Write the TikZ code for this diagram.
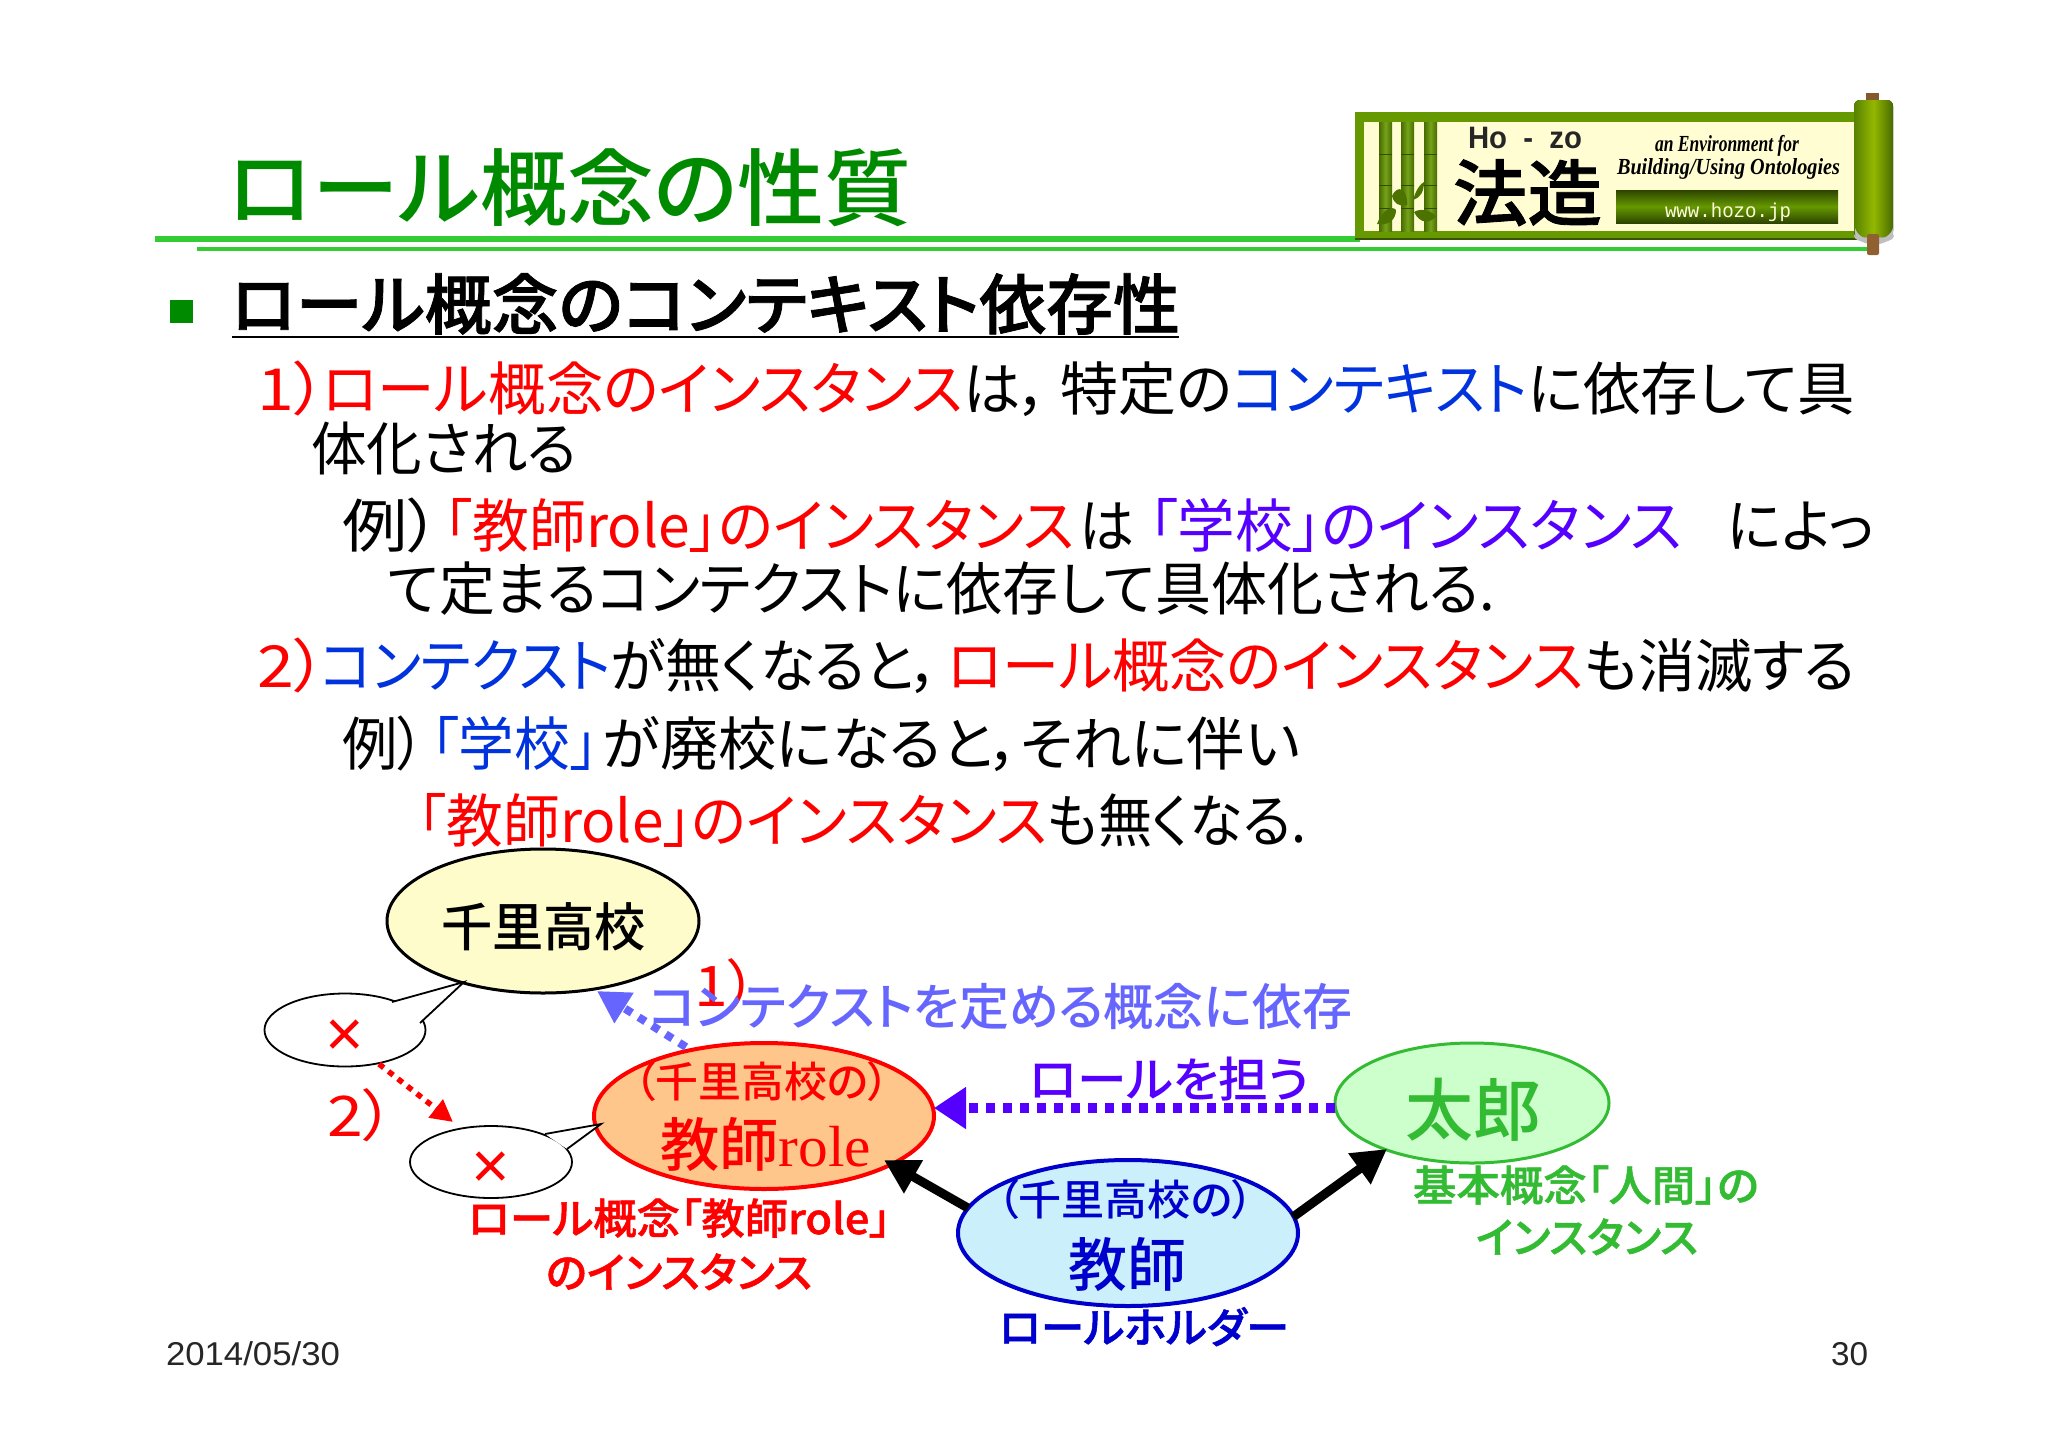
\documentclass[tikz,border=0pt]{standalone}
\usepackage{fontspec}
\usepackage{graphicx}
\usetikzlibrary{shapes.geometric,arrows.meta}
\setmainfont{Noto Sans CJK JP}[RawFeature=+palt]
\newfontfamily\med{Noto Sans CJK JP Medium}[RawFeature=+palt]
\newfontfamily\hvy{Noto Sans CJK JP Medium}[RawFeature=+palt,FakeBold=1.2]
\newfontfamily\lsans{Liberation Sans}
\newfontfamily\lserif{Liberation Serif}
\newfontfamily\lmono{Liberation Mono}
\newsavebox\fitbox
\newcommand\fitw[2]{\sbox\fitbox{#2}\pgfmathsetmacro\fitr{#1/\wd\fitbox}\scalebox{\fitr}[1]{\usebox\fitbox}}
\newcommand\fs[1]{\fontsize{#1}{#1}\selectfont}
% name, x, baseline, width, size, colour, text
\newcommand\seg[7]{\node[txt,text=#6] (#1) at (#2,#3) {\fitw{#4}{\fs{#5}#7}};}
\definecolor{titlegreen}{HTML}{008A00}
\definecolor{linegreen}{HTML}{33CC33}
\definecolor{rd}{HTML}{FF0000}
\definecolor{blu}{HTML}{0033DD}
\definecolor{vio}{HTML}{5500FF}
\definecolor{lblue}{HTML}{6666FF}
\definecolor{navy}{HTML}{0000CC}
\definecolor{grn}{HTML}{33BB33}
\definecolor{logog}{HTML}{669900}
\tikzset{
  txt/.style={anchor=base west,inner sep=0pt,outer sep=0pt},
  elli/.style={ellipse,inner sep=0pt,outer sep=0pt},
  dotarrow/.style={dash pattern=on 8pt off 8pt},
  bamboo/.style={left color=logog!70!black,right color=logog!70!black,middle color=logog!90!white},
}
\begin{document}
\begin{tikzpicture}[x=1pt,y=-1pt]
\useasboundingbox (0,0) rectangle (2048,1448);
\fill[white] (0,0) rectangle (2048,1448);
% rules
\coordinate (ruleA) at (155,239); \coordinate (ruleB) at (1360,239);
\coordinate (ruleC) at (197,249); \coordinate (ruleD) at (1868,249);
\draw[linegreen,line width=6pt] (ruleA) -- (ruleB);
\draw[linegreen,line width=4pt] (ruleC) -- (ruleD);
% logo
\fill[logog] (1355,112) rectangle (1858,240);
\fill[black!45!logog] (1355,238) rectangle (1858,240);
\fill[yellow!18!white] (1364,122) rectangle (1855,231);
\foreach \bx in {1379,1401,1424}{
  \fill[bamboo] (\bx,122) rectangle +(13,109);
  \foreach \by in {154,185,208}{\draw[logog!50!black,line width=.7pt] (\bx,\by) -- +(13,0);}
}
\fill[logog!75!black] (1392,196) .. controls (1398,183) and (1408,190) .. (1407,205) .. controls (1398,207) and (1394,203) .. (1392,196);
\fill[logog!75!black] (1377,224) .. controls (1382,210) and (1392,205) .. (1396,210) .. controls (1396,220) and (1388,226) .. (1377,224);
\fill[logog!75!black] (1414,212) .. controls (1420,208) and (1430,210) .. (1436,216) .. controls (1430,224) and (1420,224) .. (1414,212);
\fill[logog!75!black] (1413,200) .. controls (1416,190) and (1420,184) .. (1424,182) .. controls (1424,192) and (1420,198) .. (1413,200);
\fill[brown!70!black] (1866,93) rectangle (1879,104);
\fill[black!25] (1874,236) ellipse [x radius=20,y radius=7];
\fill[left color=logog!85!black,right color=logog!70!black,middle color=logog!70!yellow,rounded corners=6pt] (1854,100) rectangle (1893,237);
\fill[black!25] (1855,228) .. controls (1860,244) and (1888,244) .. (1893,228) -- (1893,234) .. controls (1888,248) and (1860,248) .. (1855,234) -- cycle;
\fill[brown!75!black,rounded corners=2pt] (1867,234) rectangle (1879,255);
\node[txt,text=black!85] (hozo) at (1468,148) {\fitw{114}{\lsans\bfseries\fs{31}Ho\ \ -\ \ zo}};
\node[txt,text=black] (houzou) at (1453,220) {\fitw{149}{\fs{72}\hvy 法造}};
\node[txt,text=black] (logoa) at (1655,151) {\fitw{144}{\lserif\itshape\bfseries\fs{23}an Environment for}};
\node[txt,text=black] (logob) at (1617,174) {\fitw{223}{\lserif\itshape\bfseries\fs{23}Building/Using Ontologies}};
\fill[top color=logog!45!black,bottom color=logog!45!black,middle color=logog] (1616,190) rectangle (1838,223);
\node[txt,text=yellow!15!white] (logoc) at (1665,217) {\fitw{126}{\lmono\fs{20}www.hozo.jp}};
% title
\seg{title}{228}{219}{684}{84}{titlegreen}{\med ロール概念の性質}
% bullet + heading
\fill[titlegreen] (170,300) rectangle (193,323);
\seg{head}{231}{329}{949}{66}{black}{\hvy ロール概念のコンテキスト依存性}
\coordinate (ulA) at (232,337); \coordinate (ulB) at (1179,337);
\draw[black,line width=2.5pt] (ulA) -- (ulB);
% body
\seg{laa}{257}{410}{70}{58}{rd}{1）}
\seg{la}{322}{410}{641}{58}{rd}{ロール概念のインスタンス}
\seg{lb}{963}{410}{86}{58}{black}{は，}
\seg{lba}{1060}{410}{172}{58}{black}{特定の}
\seg{lc}{1232}{410}{296}{58}{blu}{コンテキスト}
\seg{ld}{1528}{410}{327}{58}{black}{に依存して具}
\seg{le}{311}{470}{266}{58}{black}{体化される}
\seg{lf}{342}{547}{98}{58}{black}{例）}
\seg{lg}{444}{547}{630}{58}{rd}{「教師role」のインスタンス}
\seg{lh}{1079}{547}{55}{58}{black}{は}
\seg{li}{1149}{547}{533}{58}{vio}{「学校」のインスタンス}
\seg{lj}{1727}{547}{147}{58}{black}{によっ}
\seg{lk}{388}{610}{1107}{58}{black}{て定まるコンテクストに依存して具体化される.}
\seg{ll}{257}{687}{70}{58}{rd}{2）}
\seg{lm}{320}{687}{291}{58}{blu}{コンテクスト}
\seg{ln}{611}{687}{329}{58}{black}{が無くなると，}
\seg{lo}{947}{687}{637}{58}{rd}{ロール概念のインスタンス}
\seg{lp}{1584}{687}{271}{58}{black}{も消滅する}
\seg{lq}{342}{765}{83}{58}{black}{例）}
\seg{lr}{431}{765}{167}{58}{blu}{「学校」}
\seg{ls}{603}{765}{697}{58}{black}{が廃校になると，それに伴い}
\seg{lt}{418}{842}{629}{58}{rd}{「教師role」のインスタンス}
\seg{lu}{1047}{842}{259}{58}{black}{も無くなる.}
% ellipses
\node[elli,draw=black,line width=3pt,fill=yellow!20!white,minimum width=312pt,minimum height=144pt] (school) at (543,921) {};
\node[elli,draw=black,line width=1.8pt,fill=white,minimum width=161pt,minimum height=73pt] (bubA) at (345,1030) {};
\node[elli,draw=black,line width=1.8pt,fill=white,minimum width=162pt,minimum height=72pt] (bubB) at (491,1162) {};
\node[elli,draw=rd,line width=4pt,fill=orange!45!white,minimum width=340pt,minimum height=146pt] (role) at (764,1116) {};
\node[elli,draw=navy,line width=4pt,fill=cyan!20!white,minimum width=340pt,minimum height=146pt] (holder) at (1128,1233) {};
\node[elli,draw=grn,line width=3pt,fill=green!20!white,minimum width=274pt,minimum height=120pt] (taro) at (1472,1103) {};
% bubble tails
\coordinate (tailAa) at (392,1002); \coordinate (tailAb) at (420,1023); \coordinate (tailAt) at (464,982);
\coordinate (tailBa) at (545,1134); \coordinate (tailBb) at (567,1149); \coordinate (tailBt) at (601,1124);
\draw[fill=white,line width=1.8pt] (tailAa) -- (tailAt) -- (tailAb);
\draw[fill=white,line width=1.8pt] (tailBa) -- (tailBt) -- (tailBb);
% ellipse labels
\seg{tschool}{441}{946}{205}{52}{black}{\med 千里高校}
\node[text=rd,inner sep=0pt] (xa) at (345,1038) {\lsans\fs{66}×};
\node[text=rd,inner sep=0pt] (xb) at (491,1170) {\lsans\fs{66}×};
\seg{troleA}{634}{1097}{256}{42}{rd}{\med（千里高校の）}
\node[txt,text=rd] (troleB) at (660,1166) {\fitw{211}{\fs{58}\med 教師\lserif role}};
\seg{tholdA}{997}{1215}{257}{42}{navy}{\med（千里高校の）}
\seg{tholdB}{1068}{1286}{118}{58}{navy}{\med 教師}
\seg{ttaro}{1405}{1135}{136}{68}{grn}{\med 太郎}
% labels
\seg{one}{694}{1006}{64}{56}{rd}{1）}
\seg{two}{327}{1136}{68}{56}{rd}{2）}
\seg{ctx}{649}{1025}{703}{50}{lblue}{\med コンテクストを定める概念に依存}
\seg{carry}{1029}{1097}{281}{48}{vio}{\med ロールを担う}
\seg{rla}{468}{1234}{423}{42}{rd}{\hvy ロール概念「教師role」}
\seg{rlb}{546}{1288}{266}{42}{rd}{\hvy のインスタンス}
\seg{rh}{999}{1343}{290}{42}{navy}{\hvy ロールホルダー}
\seg{ga}{1413}{1201}{346}{42}{grn}{\hvy 基本概念「人間」の}
\seg{gb}{1476}{1253}{222}{42}{grn}{\hvy インスタンス}
% connectors
\coordinate (ctxStart) at (686,1047);
\coordinate (ctxTip) at (597,991);
\coordinate (redStart) at (379,1064);
\coordinate (redTip) at (453,1122);
\coordinate (blackA) at (968,1208);
\coordinate (blackTipA) at (884,1160);
\coordinate (blackB) at (1293,1217);
\coordinate (blackTipB) at (1387,1149);
\draw[lblue,line width=8pt,dotarrow,-{Triangle[length=32pt,width=34pt]}] (ctxStart) -- (ctxTip);
\draw[rd,line width=5.5pt,dash pattern=on 6pt off 6pt,-{Triangle[length=22pt,width=22pt]}] (redStart) -- (redTip);
\draw[vio,line width=10pt,dash pattern=on 9pt off 8pt,-{Triangle[length=32pt,width=40pt]}] (taro.west |- 0,1108) -- (role.east |- 0,1108);
\draw[black,line width=9pt,-{Triangle[length=34pt,width=36pt]}] (blackA) -- (blackTipA);
\draw[black,line width=9pt,-{Triangle[length=34pt,width=36pt]}] (blackB) -- (blackTipB);
% footer
\node[txt,text=black!85] (date) at (166,1365) {\fitw{174}{\lsans\fs{33}2014/05/30}};
\node[txt,text=black!85] (page) at (1831,1365) {\fitw{37}{\lsans\fs{33}30}};
\end{tikzpicture}
\end{document}
